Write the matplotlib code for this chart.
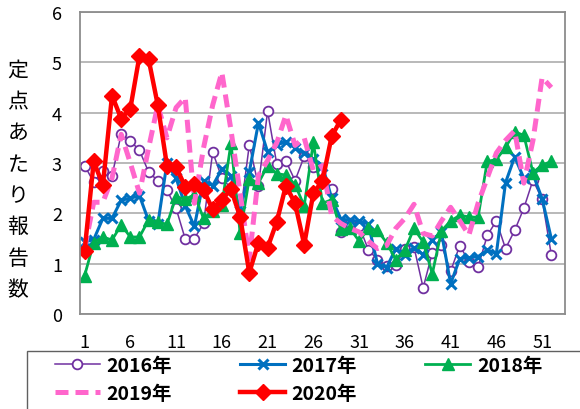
import numpy as np
import matplotlib.pyplot as plt
from matplotlib.patches import Rectangle

plt.rcParams['font.family'] = ['Noto Sans CJK JP', 'DejaVu Sans']

weeks = np.arange(1, 53)
weeks_2020 = np.arange(1, 30)

y2016 = [2.95, 2.62, 2.85, 2.75, 3.57, 3.44, 3.25, 2.82, 2.65, 2.46,
         2.1, 1.49, 1.5, 1.8, 3.22, 2.7, 2.5, 1.95, 3.36, 2.55,
         4.03, 2.98, 3.04, 2.65, 3.13, 2.93, 2.65, 2.49, 1.62, 1.8,
         1.75, 1.28, 1.08, 0.95, 0.97, 1.3, 1.33, 0.52, 1.22, 1.37,
         0.85, 1.36, 1.04, 0.93, 1.56, 1.85, 1.3, 1.66, 2.1, 2.66,
         2.28, 1.18]
y2017 = [1.43, 1.48, 1.9, 1.9, 2.26, 2.3, 2.35, 1.85, 1.78, 3.0,
         2.7, 2.15, 1.74, 2.65, 2.55, 2.88, 2.75, 2.05, 2.82, 3.8,
         3.22, 3.36, 3.42, 3.3, 3.2, 3.08, 2.95, 2.3, 1.89, 1.86,
         1.84, 1.79, 1.0, 0.92, 1.3, 1.18, 1.32, 1.18, 1.48, 1.62,
         0.6, 1.1, 1.12, 1.14, 1.27, 1.2, 2.61, 3.12, 2.7, 2.78,
         2.29, 1.5]
y2018 = [0.76, 1.42, 1.53, 1.47, 1.77, 1.53, 1.53, 1.87, 1.83, 1.78,
         2.33, 2.28, 2.37, 1.9, 2.05, 2.16, 3.4, 1.6, 2.69, 2.6,
         2.95, 2.79, 2.76, 2.57, 2.15, 3.41, 2.2, 2.27, 1.68, 1.7,
         1.45, 1.7, 1.66, 1.42, 1.08, 1.27, 1.7, 1.43, 0.8, 1.65,
         1.85, 1.96, 1.93, 1.92, 3.03, 3.07, 3.31, 3.62, 3.55, 2.81,
         2.96, 3.03]
y2019 = [1.3, 2.22, 2.22, 2.7, 3.57, 3.0, 2.4, 3.3, 4.15, 3.5,
         4.1, 4.3, 2.2, 3.3, 4.15, 4.8, 3.65, 2.4, 1.1, 2.75,
         3.05, 3.4, 3.95, 3.35, 3.5, 2.85, 2.95, 1.95, 1.8, 1.7,
         1.63, 1.45, 1.3, 1.36, 1.7, 1.9, 2.18, 1.6, 1.55, 1.85,
         2.12, 1.85, 1.57, 2.2, 2.7, 3.2, 3.45, 3.64, 2.6, 3.45,
         4.7, 4.5]
y2020 = [1.25, 3.03, 2.56, 4.34, 3.88, 4.08, 5.13, 5.06, 4.15, 2.95,
         2.92, 2.53, 2.58, 2.46, 2.08, 2.27, 2.48, 1.93, 0.82, 1.42,
         1.32, 1.83, 2.55, 2.2, 1.38, 2.4, 2.65, 3.53, 3.86]

ylabel_text = '定点あたり報告数'

fig = plt.figure(figsize=(5.8, 4.1), dpi=100)
ax = fig.add_axes([80 / 580, 1 - 315 / 410, 485 / 580, 302 / 410])

l16, = ax.plot(weeks, y2016, color='#7030A0', lw=1.1, marker='o', ms=7,
               mfc='white', mec='#7030A0', mew=1.3, label='2016年')
l17, = ax.plot(weeks, y2017, color='#0070C0', lw=2.2, marker='x', ms=7,
               mew=2.2, label='2017年')
l18, = ax.plot(weeks, y2018, color='#00B050', lw=2.0, marker='^', ms=8,
               label='2018年')
l19, = ax.plot(weeks, y2019, color='#FF66CC', lw=3.6, dashes=[2.6, 1.4],
               label='2019年')
l20, = ax.plot(weeks_2020, y2020, color='#FF0000', lw=3.2, marker='D', ms=8,
               label='2020年')

ax.set_xlim(0.5, 53.5)
ax.set_ylim(0, 6)
ax.set_xticks(np.arange(1, 53, 5))
ax.set_yticks(np.arange(0, 7, 1))
ax.tick_params(length=0, labelsize=13)
ax.tick_params(axis='x', pad=14)
ax.tick_params(axis='y', pad=13)
ax.yaxis.grid(True, color='#A6A6A6', lw=1.1)
ax.set_axisbelow(True)
for s in ax.spines.values():
    s.set_color('#8C8C8C')
    s.set_linewidth(1.3)

fig.text(0.031, 0.56, '\n'.join(ylabel_text), ha='center', va='center',
         fontsize=15, linespacing=1.55)

# legend, filled so rows read 2016 2017 2018 / 2019 2020
handles = [l16, l19, l17, l20, l18]
leg = ax.legend(handles, [h.get_label() for h in handles],
                loc='upper left', bbox_to_anchor=(55 / 580, 1 - 357 / 410),
                bbox_transform=fig.transFigure, ncol=3,
                prop={'size': 14, 'weight': 'bold'}, frameon=False,
                handlelength=2.3, handletextpad=0.35, columnspacing=3.5,
                labelspacing=0.45, borderpad=0, borderaxespad=0)

fig.add_artist(Rectangle((27 / 580, -0.1), 2, 1 - 352 / 410 + 0.1,
                         transform=fig.transFigure, fill=False,
                         edgecolor='#606060', lw=1.0))

fig.savefig('out.png', dpi=100)
